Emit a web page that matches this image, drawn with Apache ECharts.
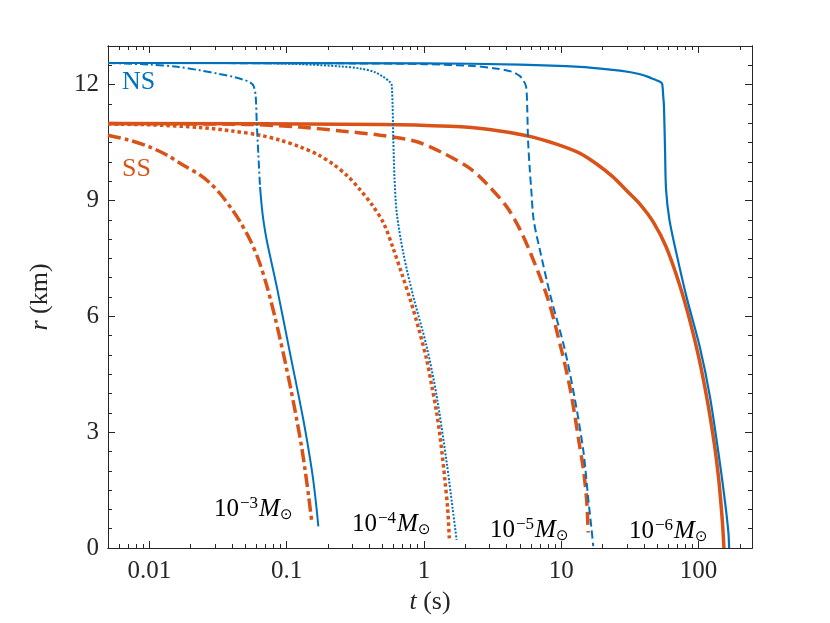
<!DOCTYPE html>
<html><head><meta charset="utf-8">
<script src="https://cdn.jsdelivr.net/npm/echarts@6/dist/echarts.min.js"></script>
<style>html,body{margin:0;padding:0;background:#fff}#c{width:830px;height:623px}</style>
</head><body><div id="c"></div>
<script>
// ---- data (t in s, r in km) ----
const xMajorTicks = [0.01, 0.1, 1, 10, 100];
const xMinorTicks = [0.006,0.007,0.008,0.009,0.02,0.03,0.04,0.05,0.06,0.07,0.08,0.09,0.2,0.3,0.4,0.5,0.6,0.7,0.8,0.9,2,3,4,5,6,7,8,9,20,30,40,50,60,70,80,90,200];
const yMajorTicks = [0, 3, 6, 9, 12];
const yMinorTicks = [0.5,1,1.5,2,2.5,3.5,4,4.5,5,5.5,6.5,7,7.5,8,8.5,9.5,10,10.5,11,11.5,12.5];

const ns3a = [[0.005,12.56],[0.01,12.52],[0.016,12.46],[0.0234,12.37],[0.032,12.28],[0.041,12.2],[0.048,12.13],[0.054,12.06],[0.0575,11.96],[0.0595,11.7],[0.0606,10.99],[0.0622,10.2],[0.064,9.35]];
const ns3b = [[0.064,9.35],[0.0659,8.84],[0.0677,8.49],[0.0716,7.97],[0.0847,6.77],[0.1059,5.04],[0.1323,3.32],[0.1524,2.03],[0.162,1.3],[0.1702,0.56]];
const ss3 = [[0.005,10.69],[0.007,10.57],[0.01,10.39],[0.0135,10.17],[0.0177,9.91],[0.0234,9.66],[0.0277,9.45],[0.0327,9.18],[0.0409,8.72],[0.0458,8.45],[0.0541,7.98],[0.0626,7.45],[0.0716,6.8],[0.0826,5.95],[0.0946,5.04],[0.1068,4.15],[0.1185,3.32],[0.1285,2.62],[0.1361,2.03],[0.1445,1.35],[0.1523,0.69]];
const ns4 = [[0.005,12.56],[0.05,12.56],[0.125,12.53],[0.25,12.47],[0.342,12.42],[0.44,12.32],[0.506,12.2],[0.56,12.08],[0.583,11.98],[0.598,10.6],[0.61,9.6],[0.634,8.67],[0.708,7.63],[0.837,6.51],[1.048,5.21],[1.24,3.92],[1.466,2.2],[1.62,1.0],[1.73,0.21]];
const ss4 = [[0.005,10.98],[0.01,10.96],[0.0234,10.89],[0.04,10.8],[0.064,10.69],[0.09,10.56],[0.125,10.39],[0.17,10.18],[0.22,9.93],[0.28,9.62],[0.342,9.28],[0.42,8.88],[0.51,8.4],[0.598,7.75],[0.69,7.1],[0.792,6.45],[0.92,5.65],[1.048,4.87],[1.14,4.2],[1.24,3.49],[1.33,2.7],[1.42,1.77],[1.49,1.0],[1.53,0.25]];
const ns5 = [[0.005,12.56],[0.3,12.55],[1,12.53],[2.3,12.48],[3.3,12.42],[4.4,12.33],[5.0,12.22],[5.3,12.11],[5.55,11.94],[5.65,11.4],[5.73,10.56],[5.9,9.8],[6.05,9.27],[6.3,8.49],[7.08,7.63],[8.37,6.51],[10.5,5.21],[12.5,3.9],[14.5,2.5],[15.7,1.3],[16.6,0.5],[17.1,0.05]];
const ss5 = [[0.005,10.99],[0.05,10.97],[0.125,10.9],[0.25,10.8],[0.48,10.69],[0.89,10.52],[1.39,10.22],[2.16,9.83],[2.85,9.44],[4.0,8.84],[5.0,8.25],[6.0,7.62],[8.0,6.45],[10.0,5.15],[11.5,4.2],[12.6,3.4],[13.5,2.72],[14.5,2.03],[15.3,1.25],[15.7,0.4]];
const ns6 = [[0.005,12.56],[1,12.55],[5,12.52],[13.7,12.46],[23.8,12.38],[32,12.32],[37.5,12.27],[43,12.2],[48,12.13],[52,12.08],[54.2,12.03],[55.3,11.7],[56,11.42],[57,10.3],[58,9.27],[61.4,8.49],[69,7.63],[81.6,6.51],[102,5.21],[121,3.92],[143,2.2],[157,1.1],[165,0.39],[167,0]];
const ss6 = [[0.005,10.99],[0.5,10.97],[1.55,10.92],[3,10.84],[5.73,10.67],[9,10.47],[13.7,10.22],[18,9.95],[23.8,9.61],[30,9.25],[37.5,8.9],[46.6,8.45],[58,7.8],[73,6.8],[87,5.85],[100,4.96],[112,4.1],[122,3.35],[132,2.55],[140,1.8],[146,1.1],[150,0.55],[153,0]];

// ---- styling ----
const BLUE = '#0072BD', ORANGE = '#D95319', AX = '#262626';
const FONT = 'Liberation Serif, Times New Roman, Tinos, serif';
const XMIN = 0.005, XMAX = 245;

function xAx(pos, ticks, len, withLabels) {
  return {
    type: 'log', logBase: 10, min: XMIN, max: XMAX, position: pos, gridIndex: 0,
    axisLine: { show: true, onZero: false, lineStyle: { color: AX, width: 1 } },
    axisTick: { show: true, inside: true, length: len, customValues: ticks, lineStyle: { color: AX, width: 1 } },
    axisLabel: withLabels ? { show: true, customValues: ticks, margin: 11, color: AX, fontFamily: FONT, fontSize: 25,
                 formatter: v => String(v) } : { show: false },
    minorTick: { show: false }, splitLine: { show: false },
    name: withLabels ? '{i|t} (s)' : '', nameLocation: 'middle', nameGap: 38,
    nameTextStyle: { color: AX, fontFamily: FONT, fontSize: 26, rich: { i: { fontStyle: 'italic', fontFamily: FONT, fontSize: 26, color: AX } } }
  };
}
function yAx(pos, ticks, len, withLabels) {
  return {
    type: 'value', min: 0, max: 13, position: pos, gridIndex: 0,
    axisLine: { show: true, onZero: false, lineStyle: { color: AX, width: 1 } },
    axisTick: { show: true, inside: true, length: len, customValues: ticks, lineStyle: { color: AX, width: 1 } },
    axisLabel: withLabels ? { show: true, customValues: ticks, margin: 9, color: AX, fontFamily: FONT, fontSize: 25 } : { show: false },
    splitLine: { show: false },
    name: withLabels ? '{i|r} (km)' : '', nameLocation: 'middle', nameGap: 55,
    nameTextStyle: { color: AX, fontFamily: FONT, fontSize: 26, rich: { i: { fontStyle: 'italic', fontFamily: FONT, fontSize: 26, color: AX } } }
  };
}
function line(data, color, width, dash) {
  return { type: 'line', data: data, xAxisIndex: 0, yAxisIndex: 0, showSymbol: false, symbol: 'none', silent: true,
           smooth: 0.3, lineStyle: { color: color, width: width, type: dash || 'solid', cap: 'butt' }, animation: false, z: color === BLUE ? 3 : 2 };
}

const massRich = {
  n: { fontFamily: FONT, fontSize: 25, color: '#000' },
  s: { fontFamily: FONT, fontSize: 17, color: '#000', verticalAlign: 'top', padding: [0,1,12,1] },
  m: { fontFamily: FONT, fontSize: 25, fontStyle: 'italic', color: '#000' },
  o: { fontFamily: '"DejaVu Sans",sans-serif', fontSize: 15, color: '#000', padding: [12,0,0,0] }
};
function massText(x, y, exp) {
  return { type: 'text', x: x, y: y, z: 10,
    style: { text: '{n|10}{s|−' + exp + '}{m|M}{o|⊙}', rich: massRich, textVerticalAlign: 'bottom', textAlign: 'left' } };
}

const chart = echarts.init(document.getElementById('c'), null, { renderer: 'canvas' });
chart.setOption({
  backgroundColor: '#fff',
  animation: false,
  grid: { left: 108, right: 78, top: 46, bottom: 75, containLabel: false },
  xAxis: [ xAx('bottom', xMajorTicks, 7, true), xAx('bottom', xMinorTicks, 4, false),
           xAx('top', xMajorTicks, 7, false), xAx('top', xMinorTicks, 4, false) ],
  yAxis: [ yAx('left', yMajorTicks, 7, true), yAx('left', yMinorTicks, 4, false),
           yAx('right', yMajorTicks, 7, false), yAx('right', yMinorTicks, 4, false) ],
  series: [
    line(ss3, ORANGE, 3.5, [13, 4, 4, 4]),
    line(ss4, ORANGE, 3.5, [3.5, 3]),
    line(ss5, ORANGE, 3.5, [13, 6]),
    line(ss6, ORANGE, 3.5, 'solid'),
    line(ns3a, BLUE, 2, [8, 3, 2, 3]),
    line(ns3b, BLUE, 2, 'solid'),
    line(ns4, BLUE, 2, [2, 1.6]),
    line(ns5, BLUE, 2, [8, 4]),
    line(ns6, BLUE, 2.2, 'solid')
  ],
  graphic: [
    { type: 'text', x: 122, y: 82, style: { text: 'NS', fill: BLUE, fontFamily: FONT, fontSize: 26, textVerticalAlign: 'middle' } },
    { type: 'text', x: 122, y: 169, style: { text: 'SS', fill: ORANGE, fontFamily: FONT, fontSize: 26, textVerticalAlign: 'middle' } },
    massText(214, 524, '3'),
    massText(352, 539, '4'),
    massText(490, 545, '5'),
    massText(629, 546, '6')
  ]
});
</script></body></html>
